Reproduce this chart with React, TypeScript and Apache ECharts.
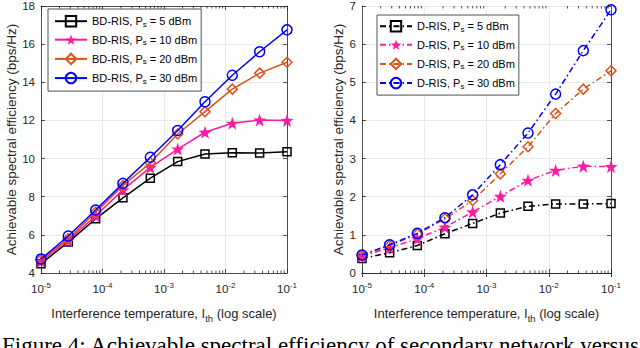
import React, { useEffect, useRef } from "react";
import * as echarts from "echarts";

const xValues = [1e-5, 2.78e-5, 7.74e-5, 2.15e-4, 5.99e-4, 1.67e-3, 4.64e-3, 1.29e-2, 3.59e-2, 1e-1];

const bdNames = ["BD-RIS, P_s = 5 dBm", "BD-RIS, P_s = 10 dBm", "BD-RIS, P_s = 20 dBm", "BD-RIS, P_s = 30 dBm"];
const dNames = ["D-RIS, P_s = 5 dBm", "D-RIS, P_s = 10 dBm", "D-RIS, P_s = 20 dBm", "D-RIS, P_s = 30 dBm"];

const bd5 = [4.49, 5.62, 6.84, 7.94, 8.97, 9.84, 10.24, 10.31, 10.29, 10.36];
const bd10 = [4.62, 5.71, 7.0, 8.36, 9.54, 10.5, 11.38, 11.85, 12.02, 12.0];
const bd20 = [4.7, 5.8, 7.19, 8.58, 9.78, 11.29, 12.46, 13.64, 14.48, 15.05];
const bd30 = [4.73, 5.94, 7.3, 8.7, 10.07, 11.47, 12.98, 14.37, 15.6, 16.75];

const d5 = [0.38, 0.53, 0.72, 1.03, 1.3, 1.57, 1.75, 1.81, 1.81, 1.82];
const d10 = [0.44, 0.66, 0.9, 1.2, 1.6, 2.01, 2.43, 2.69, 2.8, 2.79];
const d20 = [0.46, 0.72, 1.02, 1.42, 1.9, 2.6, 3.31, 4.18, 4.82, 5.3];
const d30 = [0.47, 0.74, 1.04, 1.45, 2.05, 2.84, 3.67, 4.69, 5.83, 6.9];

const minorTicks = [
  2e-5, 3e-5, 4e-5, 5e-5, 6e-5, 7e-5, 8e-5, 9e-5,
  2e-4, 3e-4, 4e-4, 5e-4, 6e-4, 7e-4, 8e-4, 9e-4,
  2e-3, 3e-3, 4e-3, 5e-3, 6e-3, 7e-3, 8e-3, 9e-3,
  2e-2, 3e-2, 4e-2, 5e-2, 6e-2, 7e-2, 8e-2, 9e-2,
];

const FONT = "Liberation Sans, Arial, Helvetica, sans-serif";
const AX = "#262626";
const GRIDC = "#e3e3e3";
const colors = ["#000000", "#ff1aa3", "#d95319", "#0000ff"];
const STAR = "path://M0,-10L2.35,-3.24L9.51,-3.09L3.8,1.24L5.88,8.09L0,4L-5.88,8.09L-3.8,1.24L-9.51,-3.09L-2.35,-3.24Z";
const symbols = ["rect", STAR, "diamond", "circle"];
const symbolSizes = [8, 13, 10, 10];

function legendFmt(name: string) {
  return name.replace("P_s", "P{sub|s}");
}

export default function App() {
  const ref = useRef<HTMLDivElement>(null);
  useEffect(() => {
    if (!ref.current) return;
    const chart = echarts.init(ref.current, undefined, { renderer: "svg" });

    const grids = [
      { left: 41, top: 5, width: 246, height: 268, ymin: 4, ymax: 18, interval: 2, yGap: 22 },
      { left: 362, top: 5, width: 249, height: 268, ymin: 0, ymax: 7, interval: 1, yGap: 13 },
    ];

    const xAxes: any[] = [];
    const yAxes: any[] = [];
    grids.forEach((g, gi) => {
      xAxes.push({
        type: "log",
        logBase: 10,
        gridIndex: gi,
        min: 1e-5,
        max: 1e-1,
        position: "bottom",
        axisLine: { show: true, lineStyle: { color: AX, width: 0.8 } },
        axisTick: { show: true, inside: true, length: 4, lineStyle: { color: AX, width: 0.8 } },
        splitLine: { show: true, lineStyle: { color: GRIDC, width: 0.8 } },
        axisLabel: {
          color: AX,
          margin: 8,
          formatter: (v: number) => "{b|10}{sup|" + Math.round(Math.log10(v)) + "}",
          rich: {
            b: { fontSize: 11.5, fontFamily: FONT, color: AX },
            sup: { fontSize: 8, fontFamily: FONT, color: AX, verticalAlign: "top", padding: [0, 0, 7, 0] },
          },
        },
        name: "Interference temperature, I{sub|th} (log scale)",
        nameLocation: "middle",
        nameGap: 31,
        nameTextStyle: {
          fontSize: 13,
          fontFamily: FONT,
          color: AX,
          rich: {
            sub: { fontSize: 9.5, fontFamily: FONT, color: AX, verticalAlign: "bottom", padding: [9, 0, 0, 0] },
          },
        },
      });
      xAxes.push({
        type: "log",
        logBase: 10,
        gridIndex: gi,
        min: 1e-5,
        max: 1e-1,
        position: "top",
        axisLine: { show: true, lineStyle: { color: AX, width: 0.8 } },
        axisTick: { show: true, inside: true, length: 4, lineStyle: { color: AX, width: 0.8 } },
        axisLabel: { show: false },
        splitLine: { show: false },
      });
      yAxes.push({
        type: "value",
        gridIndex: gi,
        min: g.ymin,
        max: g.ymax,
        interval: g.interval,
        position: "left",
        axisLine: { show: true, lineStyle: { color: AX, width: 0.8 } },
        axisTick: { show: true, inside: true, length: 4, lineStyle: { color: AX, width: 0.8 } },
        splitLine: { show: true, lineStyle: { color: GRIDC, width: 0.8 } },
        axisLabel: { color: AX, fontSize: 11.5, fontFamily: FONT, margin: 6 },
        name: "Achievable spectral efficiency (bps/Hz)",
        nameLocation: "middle",
        nameRotate: 90,
        nameGap: g.yGap,
        nameTextStyle: { fontSize: 13.5, fontFamily: FONT, color: AX },
      });
      yAxes.push({
        type: "value",
        gridIndex: gi,
        min: g.ymin,
        max: g.ymax,
        interval: g.interval,
        position: "right",
        axisLine: { show: true, lineStyle: { color: AX, width: 0.8 } },
        axisTick: { show: true, inside: true, length: 4, lineStyle: { color: AX, width: 0.8 } },
        axisLabel: { show: false },
        splitLine: { show: false },
      });
    });

    const makeSeries = (names: string[], datas: number[][], gi: number, dashed: boolean) =>
      names.map((name, i) => ({
        name,
        type: "line",
        xAxisIndex: gi * 2,
        yAxisIndex: gi * 2,
        data: xValues.map((x, k) => [x, datas[i][k]]),
        symbol: symbols[i],
        symbolSize: symbolSizes[i],
        showAllSymbol: true,
        z: 3 + i,
        lineStyle: { color: colors[i], width: 1.5, type: dashed ? [6, 3, 1.5, 3] : "solid" },
        itemStyle: {
          color: i === 1 ? colors[i] : "rgba(255,255,255,0)",
          borderColor: colors[i],
          borderWidth: i === 1 ? 0 : 1.5,
        },
        emphasis: { disabled: true },
      }));

    const minorSeries = (gi: number) => ({
      type: "custom",
      xAxisIndex: gi * 2,
      yAxisIndex: gi * 2,
      silent: true,
      clip: false,
      z: 1,
      data: minorTicks.map((x) => [x, grids[gi].ymin]),
      encode: { x: 0, y: 1 },
      renderItem: (params: any, api: any) => {
        const x = api.value(0);
        const b = api.coord([x, grids[gi].ymin]);
        const t = api.coord([x, grids[gi].ymax]);
        const st = { stroke: AX, lineWidth: 0.8 };
        return {
          type: "group",
          children: [
            { type: "line", shape: { x1: b[0], y1: b[1], x2: b[0], y2: b[1] - 2.5 }, style: st },
            { type: "line", shape: { x1: t[0], y1: t[1], x2: t[0], y2: t[1] + 2.5 }, style: st },
          ],
        };
      },
    });

    const legendCommon = {
      orient: "vertical",
      backgroundColor: "#ffffff",
      borderColor: AX,
      borderWidth: 0.8,
      borderRadius: 0,
      itemWidth: 32,
      itemHeight: 13,
      itemGap: 6,
      selectedMode: false,
      formatter: legendFmt,
      textStyle: {
        fontSize: 11,
        fontFamily: FONT,
        color: "#000000",
        rich: {
          sub: { fontSize: 8, fontFamily: FONT, color: "#000000", verticalAlign: "bottom", padding: [6, 0, 0, 0] },
        },
      },
    };

    chart.setOption({
      animation: false,
      grid: grids.map((g) => ({ left: g.left, top: g.top, width: g.width, height: g.height, containLabel: false })),
      xAxis: xAxes,
      yAxis: yAxes,
      legend: [
        { ...legendCommon, data: bdNames, left: 48, top: 9, padding: [6, 4, 6, 6] },
        { ...legendCommon, data: dNames, left: 377, top: 15, padding: [5, 4, 5, 2] },
      ],
      series: [
        ...makeSeries(bdNames, [bd5, bd10, bd20, bd30], 0, false),
        ...makeSeries(dNames, [d5, d10, d20, d30], 1, true),
        minorSeries(0),
        minorSeries(1),
      ],
      graphic: [
        {
          type: "text",
          left: 2,
          top: 334,
          style: {
            text: "Figure 4: Achievable spectral efficiency of secondary network versus",
            font: "23px 'Liberation Serif', 'Times New Roman', serif",
            fill: "#000000",
          },
        },
      ],
    });
    return () => chart.dispose();
  }, []);
  return <div ref={ref} style={{ position: "fixed", left: 0, top: 0, width: 640, height: 348, background: "#fff" }} />;
}
